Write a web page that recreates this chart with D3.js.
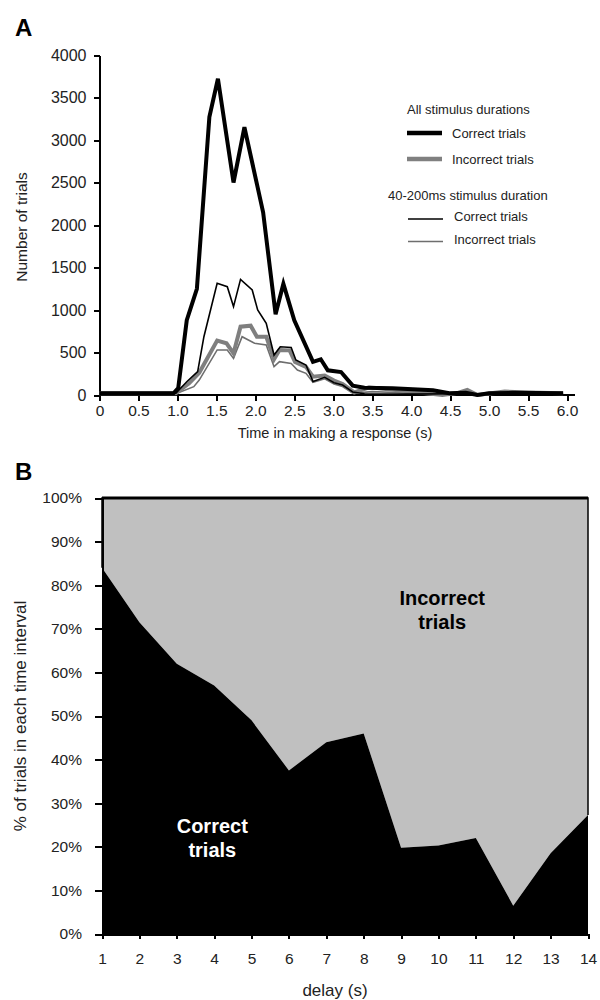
<!DOCTYPE html>
<html>
<head>
<meta charset="utf-8">
<script src="https://cdn.jsdelivr.net/npm/d3@7/dist/d3.min.js"></script>
<style>
  html, body { margin: 0; padding: 0; background: #fff; }
  svg { display: block; font-family: "Liberation Sans", Arial, sans-serif; }
  .axis path, .axis line { stroke: #000; stroke-width: 2; shape-rendering: crispEdges; }
  .axis text { fill: #222; }
</style>
</head>
<body>
<svg id="fig" width="600" height="1000"></svg>
<script>
// ---- Panel A: response-time histograms, [time (s), number of trials] ----
const allCorrect = [
  [0, 20], [0.95, 20], [1.01, 80], [1.12, 880], [1.25, 1250], [1.41, 3270],
  [1.52, 3720], [1.72, 2500], [1.86, 3150], [2.1, 2150], [2.26, 950],
  [2.36, 1310], [2.5, 880], [2.74, 390], [2.84, 420], [2.93, 290], [3.1, 270],
  [3.25, 110], [3.4, 85], [3.76, 80], [4.28, 55], [4.49, 20], [4.7, 25],
  [4.85, 0], [5.0, 20], [5.3, 25], [5.95, 20]
];
const allIncorrect = [
  [0, 20], [0.98, 20], [1.15, 137], [1.28, 262], [1.51, 640], [1.63, 608],
  [1.72, 490], [1.81, 804], [1.94, 815], [2.02, 686], [2.14, 686], [2.24, 420],
  [2.31, 530], [2.44, 525], [2.51, 388], [2.65, 330], [2.74, 215], [2.89, 230],
  [3.01, 170], [3.12, 130], [3.27, 30], [3.46, 90], [3.8, 60], [4.2, 20],
  [4.4, 0], [4.6, 25], [4.72, 60], [4.85, 0], [5.2, 40], [5.5, 30], [5.95, 20]
];
const shortCorrect = [
  [0, 15], [0.98, 20], [1.12, 156], [1.26, 274], [1.34, 686], [1.51, 1314],
  [1.64, 1274], [1.72, 1040], [1.81, 1360], [1.96, 1235], [2.03, 1000],
  [2.14, 843], [2.24, 470], [2.32, 568], [2.46, 560], [2.52, 412], [2.65, 353],
  [2.74, 160], [2.89, 208], [3.01, 145], [3.12, 118], [3.25, 35], [3.4, 15],
  [4.0, 10], [4.5, 15], [5.0, 10], [5.95, 15]
];
const shortIncorrect = [
  [0, 15], [0.98, 15], [1.21, 98], [1.28, 176], [1.51, 530], [1.64, 530],
  [1.72, 431], [1.83, 686], [1.99, 608], [2.14, 588], [2.24, 333], [2.31, 392],
  [2.46, 372], [2.54, 294], [2.65, 255], [2.74, 150], [2.89, 190], [3.01, 130],
  [3.12, 100], [3.25, 20], [3.5, 40], [3.8, 30], [4.3, 0], [4.75, 30],
  [4.9, 0], [5.3, 20], [5.95, 15]
];
const timeTicks = [0, 0.5, 1.0, 1.5, 2.0, 2.5, 3.0, 3.5, 4.0, 4.5, 5.0, 5.5, 6.0];
const countTicks = [0, 500, 1000, 1500, 2000, 2500, 3000, 3500, 4000];

// ---- Panel B: % correct trials per delay (s); remainder is incorrect ----
const delays = [1, 2, 3, 4, 5, 6, 7, 8, 9, 10, 11, 12, 13, 14];
const pctCorrect = [84, 71.5, 62, 57, 49, 37.5, 44, 46, 19.8, 20.3, 22, 6.5, 18.5, 27.3];
const pctTicks = [0, 10, 20, 30, 40, 50, 60, 70, 80, 90, 100];

const svg = d3.select("#fig");

// ================= Panel A =================
const xA = d3.scaleLinear().domain([0, 6]).range([99.5, 567]);
const yA = d3.scaleLinear().domain([0, 4000]).range([395, 55]);

svg.append("text").attr("x", 15).attr("y", 36)
  .attr("font-size", 24).attr("font-weight", "bold").text("A");

const axA_y = svg.append("g").attr("class", "axis")
  .attr("transform", `translate(${xA(0)},0)`)
  .call(d3.axisLeft(yA).tickValues(countTicks).tickFormat(d3.format("d"))
    .tickSize(6).tickSizeOuter(0).tickPadding(7));
axA_y.selectAll("text").attr("font-size", 16);

const axA_x = svg.append("g").attr("class", "axis")
  .attr("transform", `translate(0,${yA(0)})`)
  .call(d3.axisBottom(xA).tickValues(timeTicks).tickFormat(d3.format(".1f"))
    .tickSize(6).tickSizeOuter(0).tickPadding(4));
axA_x.selectAll("text").attr("font-size", 15.5).text(d => d === 0 ? "0" : d3.format(".1f")(d));
axA_x.select(".domain").attr("d", `M${xA(0)},0H575`);

svg.append("text").attr("transform", `translate(27,${(yA(0) + yA(4000)) / 2 + 2}) rotate(-90)`)
  .attr("text-anchor", "middle").attr("font-size", 15.5).attr("fill", "#222")
  .text("Number of trials");
svg.append("text").attr("x", 335).attr("y", 438)
  .attr("text-anchor", "middle").attr("font-size", 14.5).attr("fill", "#222")
  .text("Time in making a response (s)");

const lineA = d3.line().x(d => xA(d[0])).y(d => yA(d[1]));
const seriesA = [
  { data: shortIncorrect, color: "#6e6e6e", width: 1.6 },
  { data: allIncorrect, color: "#7f7f7f", width: 4 },
  { data: shortCorrect, color: "#000", width: 1.6 },
  { data: allCorrect, color: "#000", width: 4 }
];
svg.append("g").selectAll("path").data(seriesA).join("path")
  .attr("d", s => lineA(s.data))
  .attr("fill", "none")
  .attr("stroke", s => s.color)
  .attr("stroke-width", s => s.width)
  .attr("stroke-linejoin", "miter")
  .attr("stroke-miterlimit", 4);

// legend
const legend = svg.append("g").attr("fill", "#222").attr("font-size", 13);
legend.append("text").attr("x", 407).attr("y", 113.5).text("All stimulus durations");
legend.append("text").attr("x", 388).attr("y", 199.5).text("40-200ms stimulus duration");
const legendItems = [
  { label: "Correct trials", color: "#000", width: 4.5, y: 133, x0: 407, tx: 452 },
  { label: "Incorrect trials", color: "#808080", width: 4.5, y: 159, x0: 407, tx: 452 },
  { label: "Correct trials", color: "#000", width: 1.6, y: 219, x0: 408, tx: 454 },
  { label: "Incorrect trials", color: "#6e6e6e", width: 1.6, y: 241.5, x0: 408, tx: 454 }
];
legendItems.forEach(it => {
  legend.append("line").attr("x1", it.x0).attr("x2", it.x0 + 35)
    .attr("y1", it.y).attr("y2", it.y)
    .attr("stroke", it.color).attr("stroke-width", it.width);
  legend.append("text").attr("x", it.tx).attr("y", it.y + (it.width > 3 ? 4.5 : 2))
    .text(it.label);
});

// ================= Panel B =================
const xB = d3.scaleLinear().domain([1, 14]).range([102, 588]);
const yB = d3.scaleLinear().domain([0, 100]).range([934, 498]);
const rowsB = delays.map((d, i) => ({ delay: d, correct: pctCorrect[i] }));

svg.append("text").attr("x", 15).attr("y", 480)
  .attr("font-size", 24).attr("font-weight", "bold").text("B");

// incorrect share (upper) and correct share (lower)
svg.append("path").datum(rowsB)
  .attr("fill", "#c0c0c0")
  .attr("d", d3.area().x(d => xB(d.delay)).y0(d => yB(d.correct)).y1(yB(100)));
svg.append("path").datum(rowsB)
  .attr("fill", "#000")
  .attr("d", d3.area().x(d => xB(d.delay)).y0(yB(0)).y1(d => yB(d.correct)));

// outline of the incorrect area
const first = rowsB[0], last = rowsB[rowsB.length - 1];
svg.append("path")
  .attr("fill", "none").attr("stroke", "#000").attr("stroke-width", 1.5)
  .attr("d", `M${xB(first.delay)},${yB(first.correct)}V${yB(100)}H${xB(last.delay)}V${yB(last.correct)}`);
svg.append("line")
  .attr("x1", xB(1)).attr("x2", xB(14)).attr("y1", yB(100)).attr("y2", yB(100))
  .attr("stroke", "#000").attr("stroke-width", 3);

const axB_y = svg.append("g").attr("class", "axis")
  .attr("transform", `translate(${xB(1)},0)`)
  .call(d3.axisLeft(yB).tickValues(pctTicks).tickFormat(d => d + "%")
    .tickSize(7).tickSizeOuter(0).tickPadding(13));
axB_y.selectAll("text").attr("font-size", 15.5);

const axB_x = svg.append("g").attr("class", "axis")
  .attr("transform", `translate(0,${yB(0)})`)
  .call(d3.axisBottom(xB).tickValues(delays).tickFormat(d3.format("d"))
    .tickSize(5).tickSizeOuter(0).tickPadding(14));
axB_x.selectAll("text").attr("font-size", 15.5);

svg.append("text").attr("transform", `translate(26,${(yB(0) + yB(100)) / 2}) rotate(-90)`)
  .attr("text-anchor", "middle").attr("font-size", 17).attr("fill", "#222")
  .text("% of trials in each time interval");
svg.append("text").attr("x", 335).attr("y", 996)
  .attr("text-anchor", "middle").attr("font-size", 17).attr("fill", "#222")
  .text("delay (s)");

// area labels
const areaLabel = (x, y, lines, color) => {
  const t = svg.append("text").attr("text-anchor", "middle")
    .attr("font-size", 20).attr("font-weight", "bold").attr("fill", color);
  lines.forEach((s, i) => t.append("tspan").attr("x", x).attr("y", y + i * 24).text(s));
};
areaLabel(xB(3.95), 833, ["Correct", "trials"], "#fff");
areaLabel(xB(10.1), 605, ["Incorrect", "trials"], "#000");
</script>
</body>
</html>
